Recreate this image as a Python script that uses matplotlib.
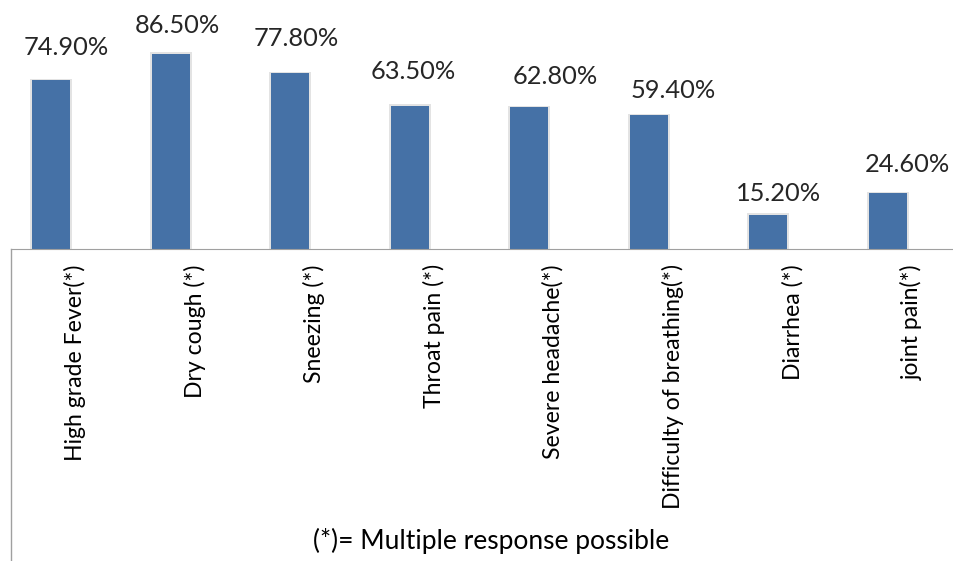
# %% symptoms.py
#   bar chart of reported symptoms

import matplotlib.pyplot as plt
import matplotlib.transforms as mtransforms
from matplotlib.lines import Line2D

# %% data
symptoms = [
    "High grade Fever(*)",
    "Dry cough (*)",
    "Sneezing (*)",
    "Throat pain (*)",
    "Severe headache(*)",
    "Difficulty of breathing(*)",
    "Diarrhea (*)",
    "joint pain(*)",
]
percent = [74.9, 86.5, 77.8, 63.5, 62.8, 59.4, 15.2, 24.6]
note = "(*)= Multiple response possible"

# label nudges in px (hand placed in the original)
nudge_x = [15, 6.5, 6.5, 4, 26, 24, 10.5, 19.5]
nudge_y = [25, 21, 27, 27, 23, 17, 14, 21]

# %% figure
plt.rcParams["font.family"] = ["Lato", "DejaVu Sans"]
W, H = 954, 561
fig = plt.figure(figsize=(W / 100, H / 100), dpi=100)
ax = fig.add_axes([11 / W, 1 - 249 / H, 943 / W, 229 / H])

x = list(range(len(symptoms)))
bar_w = 38 / 119.57
ax.bar(x, [p + 0.6 for p in percent], width=bar_w + 4 / 119.57, color="#e3e3e3", zorder=1)  # soft shadow
ax.bar(x, percent, width=bar_w, color="#4571a6", zorder=2)

for xi, p, dx, dy in zip(x, percent, nudge_x, nudge_y):
    ax.annotate(f"{p:.2f}%", (xi, p), xytext=(dx * 0.72, dy * 0.72), textcoords="offset points",
                ha="center", va="baseline", fontsize=18.3, color="#262626")

ax.set_xlim((11 - 51) / 119.57, (954 - 51) / 119.57)
ax.set_ylim(0, 101.5)
ax.set_xticks(x)
ax.set_xticklabels(symptoms, rotation=90, ha="center", va="top", fontsize=16.6, color="black")
ax.tick_params(axis="x", length=0, pad=11)
tick_off = mtransforms.ScaledTranslation(24 / 100, 0, fig.dpi_scale_trans)
for t in ax.get_xticklabels():
    t.set_transform(t.get_transform() + tick_off)
ax.set_yticks([])
for s in ["top", "right", "left"]:
    ax.spines[s].set_visible(False)
ax.spines["bottom"].set_color("#a0a0a0")
ax.spines["bottom"].set_zorder(3)

# frame line on the left, below the axis
fig.add_artist(Line2D([11.5 / W, 11.5 / W], [0, 1 - 249 / H], color="#a0a0a0", lw=1))

fig.text(491 / W, 1 - 541 / H, note, ha="center", va="center", fontsize=19, color="black")

fig.savefig("out.png", dpi=100)
